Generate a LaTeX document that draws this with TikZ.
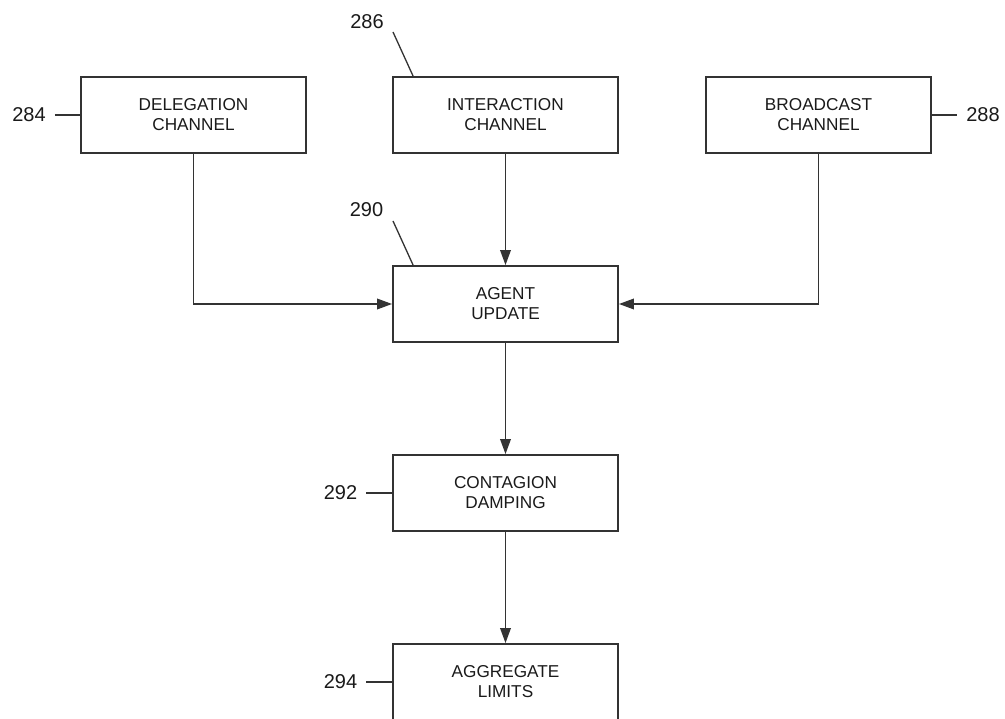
\documentclass[tikz,border=0pt]{standalone}
\usepackage{fontspec}
\setmainfont{Liberation Sans}
\usetikzlibrary{arrows.meta}
\definecolor{ln}{HTML}{333333}
\definecolor{tx}{HTML}{1A1A1A}
\begin{document}
\begin{tikzpicture}[x=1pt,y=-1pt,
  blk/.style={draw=ln,line width=1.8pt,minimum width=225pt,minimum height=76pt,
    align=center,inner sep=0pt,text=tx,font=\fontsize{17.2}{20}\selectfont},
  lbl/.style={inner sep=0pt,text=tx,font=\fontsize{20}{22}\selectfont},
  lead/.style={draw=ln,line width=1.3pt},
  flow/.style={draw=ln,line width=1.8pt,-{Triangle[length=15pt,width=10.5pt]}}]
\useasboundingbox (0,0) rectangle (1005,719);
\clip (0,0) rectangle (1005,719);
\fill[white] (0,0) rectangle (1005,719);
\node[blk] (del) at (193.5,115) {DELEGATION\\CHANNEL};
\node[blk] (int) at (505.5,115) {INTERACTION\\CHANNEL};
\node[blk] (bro) at (818.5,115) {BROADCAST\\CHANNEL};
\node[blk] (agt) at (505.5,304) {AGENT\\UPDATE};
\node[blk] (con) at (505.5,493) {CONTAGION\\DAMPING};
\node[blk] (agg) at (505.5,682) {AGGREGATE\\LIMITS};
% labels
\node[lbl] (l284) at (29,115) {284};
\node[lbl] (l288) at (983,115) {288};
\node[lbl] (l286) at (367,21.5) {286};
\node[lbl] (l290) at (366.5,210) {290};
\node[lbl] (l292) at (340.5,493) {292};
\node[lbl] (l294) at (340.5,682) {294};
\coordinate (c286) at (393,32);
\coordinate (c290) at (393,221);
\draw[lead] ([xshift=9pt]l284.east) -- (del.west);
\draw[lead] (bro.east) -- ([xshift=-9pt]l288.west);
\draw[lead] (c286) -- ([xshift=21pt]int.north west);
\draw[lead] (c290) -- ([xshift=21pt]agt.north west);
\draw[lead] ([xshift=9pt]l292.east) -- (con.west);
\draw[lead] ([xshift=9pt]l294.east) -- (agg.west);
% flows
\draw[flow] (int.south) -- (agt.north);
\draw[flow] (del.south) |- (agt.west);
\draw[flow] (bro.south) |- (agt.east);
\draw[flow] (agt.south) -- (con.north);
\draw[flow] (con.south) -- (agg.north);
\end{tikzpicture}
\end{document}
